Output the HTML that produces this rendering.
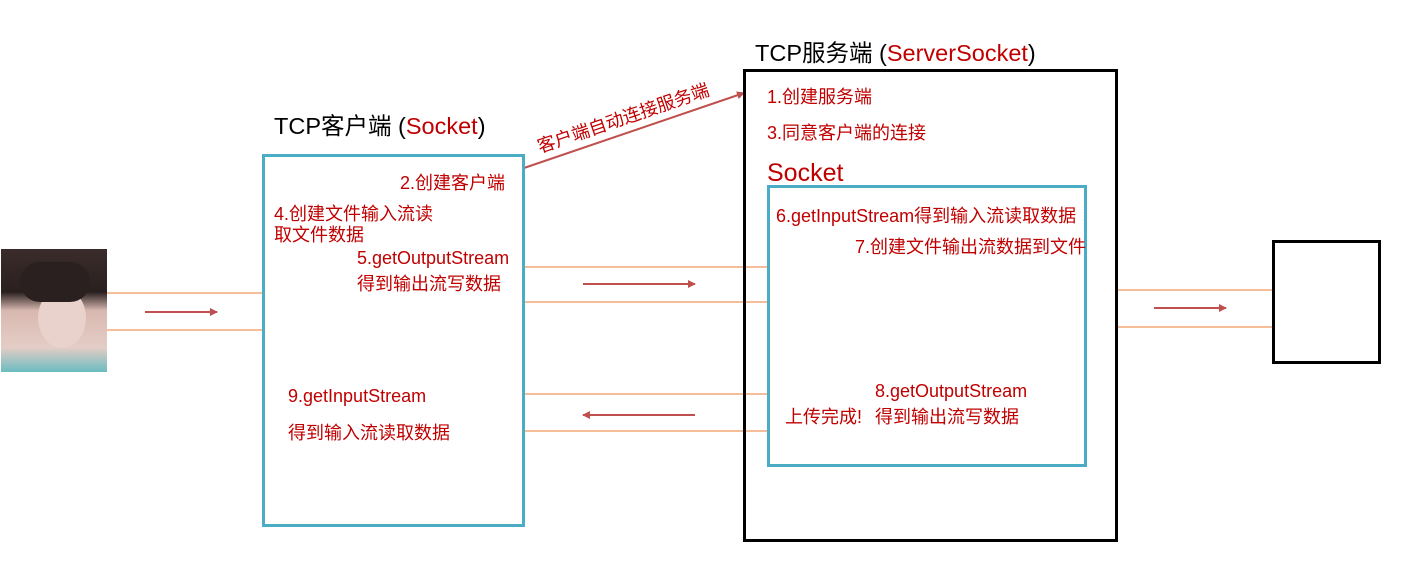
<!DOCTYPE html>
<html><head><meta charset="utf-8"><style>
body{margin:0;background:#fff;width:1409px;height:557px;overflow:hidden}
text{font-family:"Liberation Sans","Noto Sans CJK SC",sans-serif}
</style></head><body>
<svg width="1409" height="557" xmlns="http://www.w3.org/2000/svg">
<defs>
<marker id="a" markerWidth="8" markerHeight="8" refX="7" refY="4" orient="auto" markerUnits="userSpaceOnUse"><path d="M0,0 L8,4 L0,8 z" fill="#c0504d"/></marker>
<linearGradient id="hair" x1="0" y1="0" x2="0" y2="1">
<stop offset="0" stop-color="#3a2c2a"/><stop offset="0.35" stop-color="#2a2020"/><stop offset="0.5" stop-color="#d8b8b0"/><stop offset="0.8" stop-color="#e4cdc6"/><stop offset="1" stop-color="#6bbcc0"/></linearGradient>
</defs>
<rect x="1" y="249" width="106" height="123" fill="url(#hair)"/>
<ellipse cx="62" cy="318" rx="24" ry="30" fill="#e8d2cb"/>
<rect x="20" y="262" width="70" height="40" fill="#2a2020" rx="20"/>
<g stroke="#ed7d31" stroke-width="1">
<line x1="107" y1="293" x2="263" y2="293"/><line x1="107" y1="330" x2="263" y2="330"/>
<line x1="524" y1="267" x2="768" y2="267"/><line x1="524" y1="302" x2="768" y2="302"/>
<line x1="524" y1="394" x2="768" y2="394"/><line x1="524" y1="431" x2="768" y2="431"/>
<line x1="1117" y1="290" x2="1273" y2="290"/><line x1="1117" y1="327" x2="1273" y2="327"/>
</g>
<g stroke="#c0504d" stroke-width="2" marker-end="url(#a)">
<line x1="145" y1="312" x2="217" y2="312"/>
<line x1="583" y1="284" x2="695" y2="284"/>
<line x1="695" y1="415" x2="583" y2="415"/>
<line x1="1154" y1="308" x2="1226" y2="308"/>
<line x1="524" y1="168" x2="744" y2="93"/>
</g>
<rect x="263.5" y="155.5" width="260" height="370" fill="none" stroke="#4bacc6" stroke-width="3"/>
<rect x="744.5" y="70.5" width="372" height="470" fill="none" stroke="#000" stroke-width="3"/>
<rect x="768.5" y="186.5" width="317" height="279" fill="none" stroke="#4bacc6" stroke-width="3"/>
<rect x="1273.5" y="241.5" width="106" height="121" fill="none" stroke="#000" stroke-width="3"/>
<text x="274" y="134" font-size="23.5" fill="#000">TCP客户端 (<tspan fill="#c00000">Socket</tspan>)</text>
<text x="755" y="61" font-size="23.5" fill="#000">TCP服务端 (<tspan fill="#c00000">ServerSocket</tspan>)</text>
<g fill="#c00000" font-size="18">
<text x="540" y="153" font-size="18" transform="rotate(-18.8 540 153)">客户端自动连接服务端</text>
<text x="400" y="189">2.创建客户端</text>
<text x="274" y="220">4.创建文件输入流读</text>
<text x="274" y="241">取文件数据</text>
<text x="357" y="264">5.getOutputStream</text>
<text x="357" y="290">得到输出流写数据</text>
<text x="288" y="402">9.getInputStream</text>
<text x="288" y="439">得到输入流读取数据</text>
<text x="767" y="103">1.创建服务端</text>
<text x="767" y="139">3.同意客户端的连接</text>
<text x="767" y="181" font-size="25">Socket</text>
<text x="776" y="222">6.getInputStream得到输入流读取数据</text>
<text x="855" y="253">7.创建文件输出流数据到文件</text>
<text x="875" y="397">8.getOutputStream</text>
<text x="875" y="423">得到输出流写数据</text>
<text x="785" y="423">上传完成!</text>
</g>
</svg>
</body></html>
